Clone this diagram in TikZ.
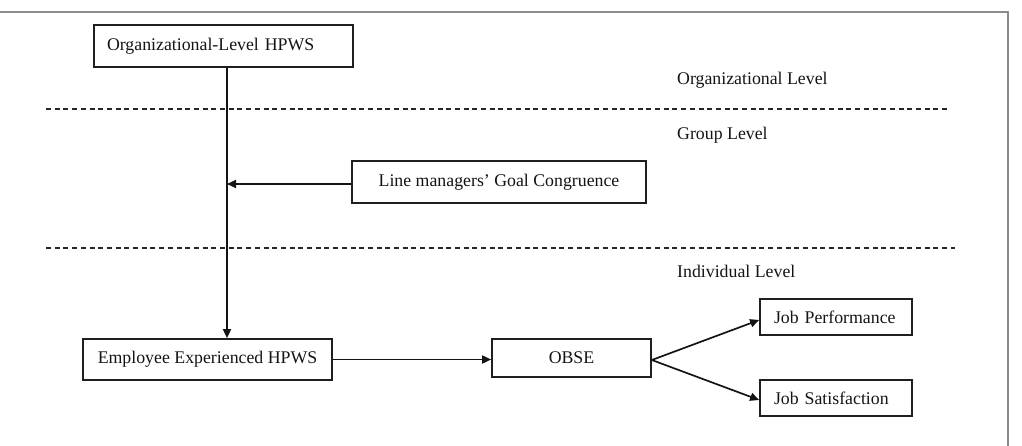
\documentclass[tikz,border=0pt]{standalone}
\usepackage{fontspec}
\setmainfont{Liberation Serif}
\usetikzlibrary{arrows.meta}
\begin{document}
\begin{tikzpicture}[x=1pt,y=-1pt,
  every node/.style={font=\fontsize{17.8}{21}\selectfont, text=black!92},
  box/.style={draw=black!88, line width=1.7pt, inner sep=0pt, align=center},
  lbox/.style={box, align=left},
  arr/.style={line width=1.7pt, draw=black!92, -{Triangle[length=9pt,width=8pt]}},
  lvl/.style={anchor=west, inner sep=0pt},
  dashline/.style={line width=1.1pt, draw=black!85, dash pattern=on 5pt off 3.7pt},
  frame/.style={line width=1.6pt, draw=black!45}
]
\useasboundingbox (0,0) rectangle (1022,446);
\draw[frame] (0,12) -- (1008,12) -- (1008,446);

\draw[dashline] (46,109) -- (947,109);
\draw[dashline] (46,248) -- (955,248);

\node[lvl] (ol) at (677,80) {Organizational Level};
\node[lvl] (gl) at (677,135) {Group Level};
\node[lvl] (il) at (677,271) {Individual Level};

\node[lbox, text width=233pt, inner xsep=13pt, minimum height=42pt] (org) at (223.5,46) {Organizational-Level HPWS};
\node[box, minimum width=294pt, minimum height=42pt] (lm) at (499,182) {Line managers’ Goal Congruence};
\node[box, minimum width=249pt, minimum height=41pt] (emp) at (207.5,359.5) {Employee Experienced HPWS};
\node[box, minimum width=159pt, minimum height=38pt] (obse) at (571.5,358) {OBSE};
\node[lbox, text width=124pt, inner xsep=14pt, minimum height=36pt] (jp) at (836,317) {Job Performance};
\node[lbox, text width=124pt, inner xsep=14pt, minimum height=36pt] (js) at (836,398) {Job Satisfaction};

\coordinate (vtop) at ([xshift=3.5pt]org.south);
\draw[arr] (vtop) -- (vtop |- emp.north);
\draw[arr] ([yshift=-2pt]lm.west) -- ([yshift=-2pt]lm.west -| vtop);
\draw[arr] (emp.east) -- (obse.west |- emp.east);
\draw[arr] ([yshift=-2pt]obse.east) -- ([yshift=-3pt]jp.west);
\draw[arr] ([yshift=-2pt]obse.east) -- ([yshift=-2pt]js.west);
\end{tikzpicture}
\end{document}
